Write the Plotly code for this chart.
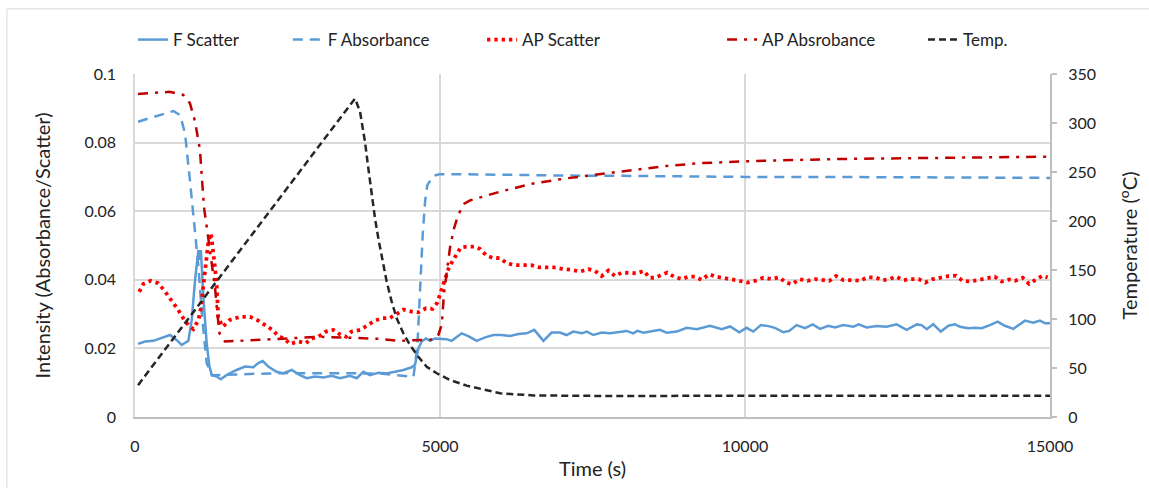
import plotly.graph_objects as go

# ---- F Scatter (solid blue) ----
f_scatter_t = [50, 165, 300, 410, 575, 685, 765, 875, 930, 985, 1040, 1065, 1080, 1120, 1175,
               1220, 1260, 1340, 1405, 1500, 1665, 1805, 1940, 2020, 2095, 2185, 2320, 2430,
               2570, 2705, 2815, 2950, 3085, 3225, 3360, 3525, 3635, 3745, 3850, 3990, 4125,
               4260, 4400, 4535, 4590, 4645, 4700, 4770, 4835, 4918, 5000, 5110, 5190, 5275,
               5355, 5465, 5600, 5740, 5875, 6010, 6150, 6285, 6420, 6545, 6695, 6830, 6965,
               7075, 7185, 7325, 7405, 7515, 7650, 7785, 7950, 8060, 8170, 8235, 8335, 8495,
               8605, 8715, 8880, 9045, 9210, 9425, 9620, 9755, 9905, 10025, 10135, 10260,
               10385, 10490, 10630, 10725, 10845, 10985, 11110, 11230, 11365, 11475, 11610,
               11775, 11860, 11995, 12160, 12320, 12485, 12650, 12815, 12895, 12980, 13085,
               13210, 13335, 13445, 13525, 13660, 13770, 13880, 14015, 14140, 14260, 14400,
               14590, 14725, 14835, 14920, 15000]
f_scatter_v = [0.0213, 0.0220, 0.0222, 0.0229, 0.0239, 0.0224, 0.0210, 0.0222, 0.0283, 0.0400,
               0.0487, 0.0458, 0.0487, 0.0351, 0.0215, 0.0147, 0.0122, 0.0118, 0.0110, 0.0122,
               0.0137, 0.0147, 0.0145, 0.0157, 0.0163, 0.0147, 0.0132, 0.0127, 0.0137, 0.0122,
               0.0113, 0.0118, 0.0115, 0.0120, 0.0113, 0.0120, 0.0113, 0.0132, 0.0122, 0.0129,
               0.0127, 0.0132, 0.0137, 0.0145, 0.0152, 0.0200, 0.0220, 0.0229, 0.0222, 0.0229,
               0.0229, 0.0227, 0.0222, 0.0234, 0.0244, 0.0236, 0.0222, 0.0232, 0.0239, 0.0239,
               0.0236, 0.0242, 0.0244, 0.0254, 0.0222, 0.0246, 0.0246, 0.0239, 0.0249, 0.0244,
               0.0249, 0.0239, 0.0246, 0.0244, 0.0249, 0.0251, 0.0244, 0.0251, 0.0246, 0.0251,
               0.0254, 0.0246, 0.0249, 0.0260, 0.0256, 0.0266, 0.0256, 0.0264, 0.0247, 0.0260,
               0.0249, 0.0268, 0.0265, 0.0260, 0.0247, 0.0251, 0.0268, 0.0259, 0.0270, 0.0257,
               0.0266, 0.0261, 0.0268, 0.0263, 0.0270, 0.0261, 0.0265, 0.0263, 0.0270, 0.0254,
               0.0270, 0.0268, 0.0256, 0.0271, 0.0249, 0.0266, 0.0270, 0.0263, 0.0259, 0.0260,
               0.0259, 0.0268, 0.0278, 0.0266, 0.0257, 0.0281, 0.0275, 0.0281, 0.0273, 0.0273]

# ---- F Absorbance (dashed blue) ----
f_abs_t = [50, 400, 630, 740, 820, 900, 985, 1040, 1095, 1175, 1260, 1500, 2000, 2500, 3000,
           3500, 4000, 4300, 4565, 4630, 4672, 4716, 4755, 4792, 4890, 5000, 5330, 6000, 7000,
           8000, 9000, 10000, 11000, 12000, 13000, 14000, 15000]
f_abs_v = [0.0861, 0.0880, 0.0892, 0.0880, 0.0827, 0.0691, 0.0545, 0.0438, 0.0303, 0.0157,
           0.0122, 0.0124, 0.0126, 0.0128, 0.0128, 0.0129, 0.0127, 0.0122, 0.0117, 0.0210,
           0.0385, 0.0530, 0.0628, 0.0676, 0.0703, 0.0708, 0.0708, 0.0706, 0.0704, 0.0703,
           0.0701, 0.0700, 0.0700, 0.0700, 0.0699, 0.0698, 0.0697]

# ---- AP Scatter (red dots) ----
ap_scatter_t = [70, 135, 255, 380, 475, 630, 710, 790, 875, 955, 1040, 1075, 1120, 1165, 1200,
                1245, 1275, 1310, 1340, 1355, 1365, 1440, 1555, 1720, 1885, 2020, 2130, 2255,
                2350, 2460, 2540, 2675, 2800, 2895, 3005, 3130, 3250, 3350, 3460, 3550, 3690,
                3810, 3935, 4055, 4170, 4290, 4400, 4536, 4645, 4770, 4875, 4955, 5000, 5044,
                5082, 5137, 5191, 5262, 5339, 5448, 5557, 5656, 5754, 5864, 5984, 6093, 6230,
                6355, 6492, 6628, 6765, 6902, 7022, 7159, 7295, 7432, 7541, 7650, 7760, 7869,
                7978, 8104, 8224, 8344, 8432, 8525, 8623, 8727, 8836, 8962, 9071, 9180, 9290,
                9410, 9525, 9656, 9792, 9907, 10038, 10164, 10301, 10437, 10563, 10672, 10770,
                10891, 11022, 11148, 11257, 11383, 11492, 11612, 11749, 11885, 12005, 12137,
                12257, 12366, 12475, 12595, 12716, 12847, 12956, 13077, 13208, 13339, 13459,
                13568, 13689, 13825, 13962, 14093, 14208, 14333, 14426, 14552, 14656, 14765,
                14874, 14962]
ap_scatter_v = [0.0365, 0.0388, 0.0397, 0.0390, 0.0370, 0.0333, 0.0312, 0.0288, 0.0268, 0.0256,
                0.0283, 0.0312, 0.0390, 0.0453, 0.0506, 0.0536, 0.0497, 0.0438, 0.0380, 0.0336,
                0.0288, 0.0263, 0.0283, 0.0292, 0.0292, 0.0281, 0.0268, 0.0254, 0.0236, 0.0227,
                0.0213, 0.0220, 0.0215, 0.0229, 0.0234, 0.0249, 0.0254, 0.0242, 0.0234, 0.0249,
                0.0254, 0.0266, 0.0281, 0.0288, 0.0288, 0.0300, 0.0313, 0.0307, 0.0305, 0.0317,
                0.0315, 0.0333, 0.0356, 0.0380, 0.0404, 0.0431, 0.0450, 0.0472, 0.0494, 0.0497,
                0.0497, 0.0490, 0.0472, 0.0464, 0.0463, 0.0448, 0.0443, 0.0443, 0.0443, 0.0436,
                0.0436, 0.0436, 0.0431, 0.0429, 0.0424, 0.0431, 0.0426, 0.0411, 0.0427, 0.0411,
                0.0421, 0.0421, 0.0419, 0.0426, 0.0406, 0.0406, 0.0414, 0.0421, 0.0409, 0.0402,
                0.0409, 0.0409, 0.0400, 0.0416, 0.0409, 0.0406, 0.0401, 0.0397, 0.0392, 0.0397,
                0.0406, 0.0402, 0.0407, 0.0392, 0.0387, 0.0402, 0.0397, 0.0402, 0.0399, 0.0397,
                0.0411, 0.0399, 0.0399, 0.0397, 0.0407, 0.0407, 0.0399, 0.0402, 0.0409, 0.0399,
                0.0402, 0.0402, 0.0392, 0.0402, 0.0406, 0.0411, 0.0412, 0.0397, 0.0395, 0.0399,
                0.0404, 0.0409, 0.0395, 0.0401, 0.0397, 0.0406, 0.0388, 0.0399, 0.0412, 0.0407]

# ---- AP Absrobance (dark red dash-dot) ----
ap_abs_t = [50, 570, 790, 900, 985, 1065, 1130, 1200, 1310, 1350, 1385, 1475, 2000, 2500, 3000,
            3500, 4000, 4340, 4670, 4890, 4975, 5030, 5065, 5110, 5165, 5230, 5300, 5400, 5500,
            5985, 6530, 7080, 7620, 8170, 8715, 9260, 9750, 10080, 11450, 13090, 14950]
ap_abs_v = [0.0942, 0.0948, 0.0939, 0.0915, 0.0861, 0.0778, 0.0613, 0.0526, 0.0380, 0.0303,
            0.0244, 0.0220, 0.0224, 0.0229, 0.0234, 0.0232, 0.0228, 0.0222, 0.0224, 0.0226,
            0.0240, 0.0270, 0.0360, 0.0420, 0.0495, 0.0550, 0.0590, 0.0622, 0.0632, 0.0657,
            0.0681, 0.0696, 0.0708, 0.0722, 0.0732, 0.0740, 0.0744, 0.0746, 0.0752, 0.0756,
            0.0759]

# ---- Temperature (black short dash, right axis) ----
temp_t = [50, 3607, 3689, 3770, 3825, 3880, 3934, 3989, 4061, 4126, 4208, 4290, 4399, 4508,
          4645, 4782, 4946, 5164, 5437, 5985, 6530, 7620, 9750, 12000, 15000]
temp_v = [32.5, 325.0, 311.5, 281.0, 253.8, 226.5, 202.8, 182.3, 158.5, 138.0, 117.7, 100.7,
          85.4, 73.5, 61.5, 51.3, 44.6, 37.8, 32.0, 24.2, 22.0, 21.5, 21.6, 21.6, 21.6]

x_ticks = [0, 5000, 10000, 15000]
x_tick_text = ["0", "5000", "10000", "15000"]
y_ticks = [0, 0.02, 0.04, 0.06, 0.08, 0.1]
y_tick_text = ["0", "0.02", "0.04", "0.06", "0.08", "0.1"]
y2_ticks = [0, 50, 100, 150, 200, 250, 300, 350]

BLUE = "#5B9BD5"
TEXT = "#222222"
FONT = "Lato"

fig = go.Figure()
fig.add_trace(go.Scatter(x=f_scatter_t, y=f_scatter_v, name="F Scatter", mode="lines",
                         legend="legend", line=dict(color=BLUE, width=2.5)))
fig.add_trace(go.Scatter(x=f_abs_t, y=f_abs_v, name="F Absorbance", mode="lines",
                         legend="legend2", line=dict(color=BLUE, width=2.5, dash="10px,7px")))
fig.add_trace(go.Scatter(x=ap_scatter_t, y=ap_scatter_v, name="AP Scatter", mode="lines",
                         legend="legend3",
                         line=dict(color="#FF0000", width=3.8, dash="3.3px,4px")))
fig.add_trace(go.Scatter(x=ap_abs_t, y=ap_abs_v, name="AP Absrobance", mode="lines",
                         legend="legend4",
                         line=dict(color="#C00000", width=2.5, dash="10px,7px,3px,7px")))
fig.add_trace(go.Scatter(x=temp_t, y=temp_v, name="Temp.", mode="lines", yaxis="y2",
                         legend="legend5",
                         line=dict(color="#262626", width=2.5, dash="7px,4px")))


def legend_box(x):
    # one single-entry legend per series, laid out along the top of the chart
    return dict(orientation="h", x=x, xanchor="left", y=1.099, yanchor="middle",
                font=dict(family=FONT, size=17, color=TEXT), bgcolor="rgba(0,0,0,0)")


fig.update_layout(
    width=1149, height=488,
    margin=dict(l=135, r=99, t=74, b=71),
    paper_bgcolor="white", plot_bgcolor="white",
    font=dict(family=FONT, size=16, color=TEXT),
    showlegend=True,
    legend=legend_box(-0.0022),
    legend2=legend_box(0.1670),
    legend3=legend_box(0.3793),
    legend4=legend_box(0.6416),
    legend5=legend_box(0.8612),
    xaxis=dict(range=[0, 15000], tickvals=x_ticks, ticktext=x_tick_text, showgrid=True,
               gridcolor="#d9d9d9", gridwidth=1.5, zeroline=False, showline=True,
               linecolor="#bfbfbf", linewidth=2, ticks="", ticklabelstandoff=14,
               tickfont=dict(size=16),
               title=dict(text="Time (s)", font=dict(size=20), standoff=8)),
    yaxis=dict(range=[0, 0.1], tickvals=y_ticks, ticktext=y_tick_text, showgrid=True,
               gridcolor="#d9d9d9", gridwidth=1.5, zeroline=False, showline=True,
               linecolor="#d9d9d9", linewidth=1.5, ticks="", ticklabelstandoff=14,
               tickfont=dict(size=16),
               title=dict(text="Intensity (Absorbance/Scatter)", font=dict(size=20), standoff=28)),
    yaxis2=dict(range=[0, 350], tickvals=y2_ticks, overlaying="y", side="right",
                showgrid=False, zeroline=False, showline=True, linecolor="#bfbfbf",
                linewidth=2, ticks="outside", ticklen=5, tickcolor="#bfbfbf", tickwidth=1.5,
                ticklabelstandoff=8, tickfont=dict(size=16),
                title=dict(text="Temperature (<sup>o</sup>C)", font=dict(size=20), standoff=28)),
    shapes=[dict(type="rect", xref="paper", yref="paper", x0=-0.14, x1=1.2, y0=-0.3, y1=1.19,
                 line=dict(color="#d9d9d9", width=1), fillcolor="rgba(0,0,0,0)", layer="below")],
)

fig.write_html("out.html")
